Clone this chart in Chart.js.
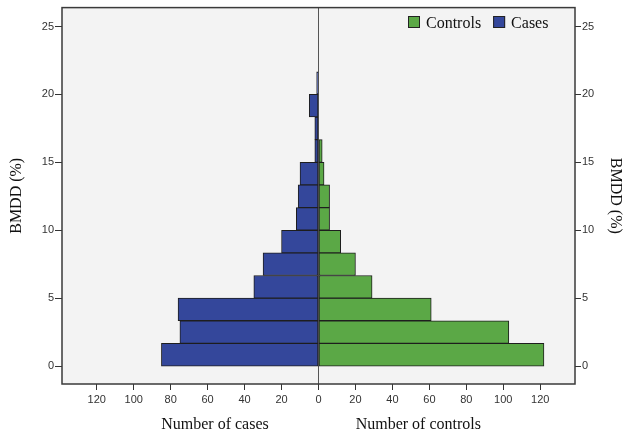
<!DOCTYPE html>
<html>
<head>
<meta charset="utf-8">
<script src="https://cdn.jsdelivr.net/npm/chart.js@4.4.1/dist/chart.umd.min.js"></script>
<style>
  html, body { margin: 0; padding: 0; background: #fff; }
  #wrap { width: 623px; height: 435px; }
</style>
</head>
<body>
<div id="wrap"><canvas id="pyramid"></canvas></div>
<script>
/* ══════════════════════════════════════
   DATA
══════════════════════════════════════ */
const binLower = [0, 1.667, 3.333, 5, 6.667, 8.333, 10, 11.667, 13.333, 15, 16.667, 18.333, 20];
const binWidth = 1.667;
const cases = [85, 75, 76, 35, 30, 20, 12, 11, 10, 2, 2, 5, 1];
const controls = [122, 103, 61, 29, 20, 12, 6, 6, 3, 2, 0, 0, 0];
const yTicks = [0, 5, 10, 15, 20, 25];
const xTicks = [-120, -100, -80, -60, -40, -20, 0, 20, 40, 60, 80, 100, 120];

const BLUE = "#34479b";
const GREEN = "#5ba846";
const SANS = '"Liberation Sans", Arial, sans-serif';
const SERIF = '"Liberation Serif", "Times New Roman", serif';

/* ══════════════════════════════════════
   HELPERS
══════════════════════════════════════ */
function toPoints(counts, sign) {
  return binLower
    .map((lo, i) => ({ y: lo + binWidth / 2, x: sign * counts[i] }))
    .filter((p) => p.x !== 0);
}

function fixTicks(list) {
  return (scale) => {
    scale.ticks = list.map((v) => ({ value: v }));
  };
}

/* plot background, frame, legend, x titles */
const framePlugin = {
  id: "frame",
  beforeDraw(chart) {
    const { ctx, chartArea: a } = chart;
    ctx.save();
    ctx.fillStyle = "#f3f3f3";
    ctx.fillRect(a.left, a.top, a.right - a.left, a.bottom - a.top);
    ctx.restore();
  },
  afterDraw(chart) {
    const { ctx, chartArea: a, scales } = chart;
    ctx.save();
    ctx.strokeStyle = "#3a3a3a";
    ctx.lineWidth = 1.5;
    ctx.strokeRect(a.left, a.top, a.right - a.left, a.bottom - a.top);

    // x titles
    ctx.fillStyle = "#111";
    ctx.font = `16px ${SERIF}`;
    ctx.textAlign = "center";
    ctx.textBaseline = "alphabetic";
    ctx.fillText("Number of cases", scales.x.getPixelForValue(-56), 429);
    ctx.fillText("Number of controls", scales.x.getPixelForValue(54), 429);

    // legend (controls first, then cases)
    const items = [chart.data.datasets[1], chart.data.datasets[0]];
    ctx.textAlign = "left";
    let x = a.right - 167;
    items.forEach((ds) => {
      ctx.fillStyle = ds.backgroundColor;
      ctx.fillRect(x, 16, 12, 12);
      ctx.strokeStyle = "#222";
      ctx.lineWidth = 1;
      ctx.strokeRect(x + 0.5, 16.5, 11, 11);
      ctx.fillStyle = "#111";
      ctx.fillText(ds.label, x + 18, 28);
      x += 18 + ctx.measureText(ds.label).width + 12;
    });
    ctx.restore();
  },
};

/* ══════════════════════════════════════
   CHART
══════════════════════════════════════ */
new Chart(document.getElementById("pyramid"), {
  type: "bar",

  data: {
    datasets: [
      {
        label: "Cases",
        data: toPoints(cases, -1),
        backgroundColor: BLUE,
        borderColor: "#1e1e1e",
        borderWidth: 1,
        borderSkipped: false,
        grouped: false,
        categoryPercentage: 1,
        barPercentage: 1,
      },
      {
        label: "Controls",
        data: toPoints(controls, 1),
        backgroundColor: GREEN,
        borderColor: "#1e1e1e",
        borderWidth: 1,
        borderSkipped: false,
        grouped: false,
        categoryPercentage: 1,
        barPercentage: 1,
      },
    ],
  },

  options: {
    indexAxis: "y",
    responsive: true,
    maintainAspectRatio: false,
    animation: false,
    layout: { padding: { top: 5, left: 0, right: 0, bottom: 0 } },

    plugins: {
      legend: { display: false },
      tooltip: { enabled: false },
    },

    scales: {
      x: {
        type: "linear",
        position: "bottom",
        min: -138.8,
        max: 138.8,
        afterBuildTicks: fixTicks(xTicks),
        afterFit(scale) {
          scale.height = 51;
        },
        border: { display: false },
        grid: {
          color: (c) => (c.tick && c.tick.value === 0 ? "#555" : "rgba(0,0,0,0)"),
          lineWidth: 1,
          tickColor: "#333",
          tickLength: 6,
        },
        ticks: {
          autoSkip: false,
          maxRotation: 0,
          padding: 3,
          color: "#333",
          font: { family: SANS, size: 11 },
          callback: (v) => Math.abs(v),
        },
      },

      y: {
        type: "linear",
        position: "left",
        min: -1.32,
        max: 26.39,
        offset: false,
        afterBuildTicks: fixTicks(yTicks),
        afterFit(scale) {
          scale.width = 62;
        },
        border: { display: false },
        grid: {
          offset: false,
          drawOnChartArea: false,
          tickColor: "#333",
          tickLength: 7,
        },
        ticks: {
          padding: 1,
          color: "#333",
          font: { family: SANS, size: 11 },
        },
        title: {
          display: true,
          text: "BMDD (%)",
          color: "#111",
          font: { family: SERIF, size: 16, lineHeight: 1.2 },
          padding: { top: 7, bottom: 0 },
        },
      },

      y2: {
        type: "linear",
        position: "right",
        min: -1.32,
        max: 26.39,
        offset: false,
        afterBuildTicks: fixTicks(yTicks),
        afterFit(scale) {
          scale.width = 48;
        },
        border: { display: false },
        grid: {
          offset: false,
          drawOnChartArea: false,
          tickColor: "#333",
          tickLength: 6,
        },
        ticks: {
          padding: 1,
          color: "#333",
          font: { family: SANS, size: 11 },
        },
        title: {
          display: true,
          text: "BMDD (%)",
          color: "#111",
          font: { family: SERIF, size: 16, lineHeight: 1 },
          padding: { top: 0, bottom: 0 },
        },
      },
    },
  },

  plugins: [framePlugin],
});
</script>
</body>
</html>
